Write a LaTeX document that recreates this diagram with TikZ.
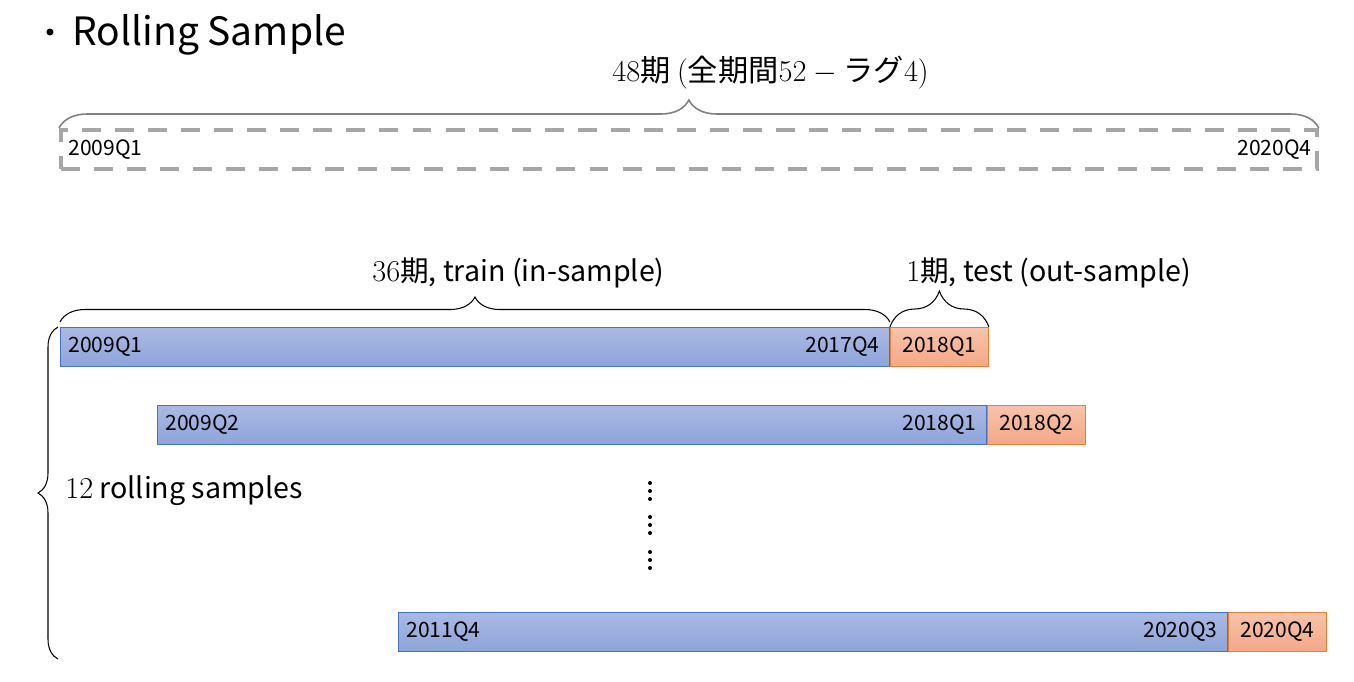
\documentclass[tikz,border=0pt]{standalone}
\usepackage{fontspec}
\setmainfont{Noto Sans CJK JP}
\usetikzlibrary{decorations.pathreplacing,positioning}
\definecolor{trainfillA}{HTML}{AAB9E3}
\definecolor{trainfillB}{HTML}{8DA5DA}
\definecolor{trainline}{HTML}{4472C4}
\definecolor{testfillA}{HTML}{F7C3AB}
\definecolor{testfillB}{HTML}{F4A886}
\definecolor{testline}{HTML}{ED7D31}
\definecolor{dashgray}{HTML}{A6A6A6}
\definecolor{bracegray}{HTML}{808080}
\tikzset{
  trainbox/.style={draw=trainline, line width=0.6pt, top color=trainfillA, bottom color=trainfillB,
    minimum width=16.58cm, minimum height=0.77cm, inner sep=0, anchor=north west},
  testbox/.style={draw=testline, line width=0.6pt, top color=testfillA, bottom color=testfillB,
    minimum width=1.96cm, minimum height=0.77cm, inner sep=0, anchor=west, font=\fontsize{12}{14}\selectfont},
  datelbl/.style={inner sep=0, font=\fontsize{12}{14}\selectfont},
  lbl/.style={inner sep=0, anchor=base west, font=\fontsize{16.3}{19}\selectfont},
  brc/.style={decorate, decoration={brace, amplitude=#1}, line width=0.6pt},
}
\begin{document}
\begin{tikzpicture}[x=0.02cm, y=-0.02cm]
  \useasboundingbox (0,0) rectangle (1354,681);
  \node[circle, fill, inner sep=0, minimum size=0.14cm] (bul) at (50,32) {};
  \node[anchor=base west, inner sep=0, font=\fontsize{22.2}{26}\selectfont] (ttl) at (72,45) {Rolling Sample};

  \node[draw=dashgray, line width=2.3pt, dash pattern=on 10.8pt off 8pt, minimum width=25.12cm,
    minimum height=0.78cm, inner sep=0, anchor=north west] (full) at (59,128) {};
  \node[datelbl, anchor=west] (fs) at ([xshift=0.18cm]full.west) {2009Q1};
  \node[datelbl, anchor=east] (fe) at ([xshift=-0.14cm]full.east) {2020Q4};
  \draw[brc=0.56cm, draw=bracegray, line width=0.9pt] (full.north west) -- (full.north east);
  \node[lbl, font=\fontsize{17.2}{20}\selectfont] (fulll) at (612,81) {$48$期 $($全期間$52 - {}$ラグ$4)$};

  \foreach \x/\y/\a/\b/\c [count=\i] in {60/327/2009Q1/2017Q4/2018Q1,
      157/405/2009Q2/2018Q1/2018Q2, 398/612/2011Q4/2020Q3/2020Q4}{
    \node[trainbox] (tr\i) at (\x,\y) {};
    \node[testbox] (te\i) at (tr\i.east) {\c};
    \node[datelbl, anchor=west] (ts\i) at ([xshift=0.16cm]tr\i.west) {\a};
    \node[datelbl, anchor=east] (tf\i) at ([xshift=-0.2cm]tr\i.east) {\b};
  }

  \draw[brc=0.5cm, decoration={raise=0.1cm}] (tr1.north west) -- (tr1.north east);
  \draw[brc=0.72cm] (te1.north west) -- (te1.north east);
  \node[lbl] (trl) at (372,281) {$36$期, train (in-sample)};
  \node[lbl] (tel) at (906,281) {$1$期, test (out-sample)};

  \coordinate (lb) at (58,659);
  \coordinate (lt) at (58,327);
  \draw[brc=0.4cm] (lb) -- (lt);
  \node[lbl, anchor=west] (nl) at (65,491) {$12$ rolling samples};

  % vertical dots
  \foreach \g in {491,525,560}
    \foreach \k in {-8,0,8}
      \fill (650,\g+\k) circle (0.04cm);
\end{tikzpicture}
\end{document}
